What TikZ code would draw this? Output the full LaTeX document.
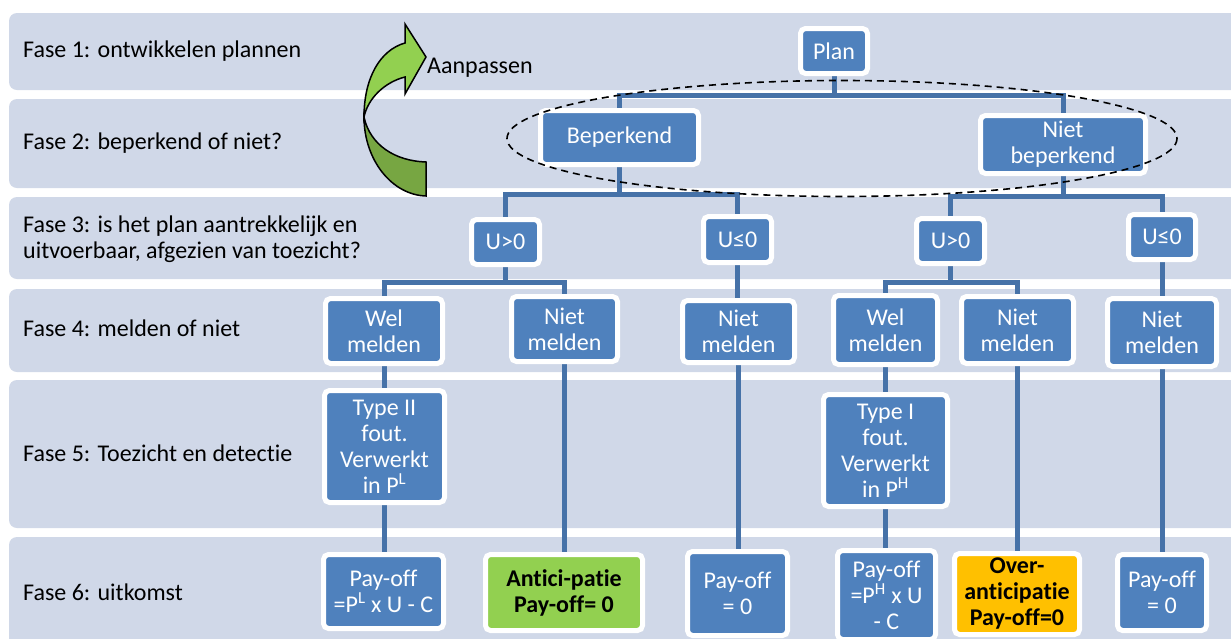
\documentclass[tikz,border=0pt]{standalone}
\usepackage{fontspec}
\setmainfont{Carlito}[Ligatures=NoCommon]
\pgfdeclarelayer{bands}
\pgfdeclarelayer{lines}
\pgfsetlayers{bands,lines,main}
\definecolor{bandgray}{RGB}{208,216,232}
\definecolor{boxblue}{RGB}{79,129,189}
\definecolor{linkblue}{RGB}{70,114,168}
\definecolor{arrowlight}{RGB}{146,208,80}
\definecolor{arrowdark}{RGB}{119,166,66}
\definecolor{antigreen}{RGB}{146,208,80}
\definecolor{overorange}{RGB}{255,192,0}
\tikzset{
    box/.style={fill=boxblue, draw=white, line width=5pt, rounded corners=5pt, inner sep=0pt, text=white, align=center, font=\fontsize{24}{26}\selectfont},
    sz/.style 2 args={minimum width=#1pt, minimum height=#2pt},
    band/.style={fill=bandgray, rounded corners=8pt},
    fase/.style={anchor=west, align=left, inner sep=0pt, font=\fontsize{24}{26}\selectfont},
    conn/.style={draw=linkblue, line width=5pt},
    endbox/.style={box, text=black, font=\fontsize{24}{26}\selectfont\bfseries},
}
\begin{document}
\begin{tikzpicture}[x=1pt, y=-1pt]
    \useasboundingbox (0,0) rectangle (1231,638);
    \begin{pgfonlayer}{bands}
        \fill[white] (0,0) rectangle (1231,638);
        \fill[band] (9,13) rectangle (1250,90);
        \fill[band] (9,99) rectangle (1250,188);
        \fill[band] (9,197) rectangle (1250,279);
        \fill[band] (9,289) rectangle (1250,372);
        \fill[band] (9,380) rectangle (1250,528);
        \fill[band] (9,537) rectangle (1250,660);
    \end{pgfonlayer}

    \node[fase] (f1) at (23,51) {Fase 1: ontwikkelen plannen};
    \node[fase] (f2) at (23,143.5) {Fase 2: beperkend of niet?};
    \node[fase] (f3) at (23,239) {Fase 3: is het plan aantrekkelijk en\\uitvoerbaar, afgezien van toezicht?};
    \node[fase] (f4) at (23,328) {Fase 4: melden of niet};
    \node[fase] (f5) at (23,453) {Fase 5: Toezicht en detectie};
    \node[fase] (f6) at (23,592) {Fase 6: uitkomst};

    \fill[arrowdark, draw=black, line width=1.5pt] (364,117) .. controls (364,160) and (392,195) .. (426,196) -- (426,162) .. controls (395,161) and (370,145) .. (364,117) -- cycle;
    \fill[arrowlight, draw=black, line width=1.5pt] (364,117) .. controls (364,78) and (380,50) .. (405,43) -- (405,24) -- (426,57) -- (405,94) -- (405,77) .. controls (385,82) and (368,98) .. (364,117) -- cycle;
    \node[anchor=base west, inner sep=0pt, font=\fontsize{24}{26}\selectfont] (aanp) at (427,73) {Aanpassen};

    \node[box, sz={67}{45}] (plan) at (834,51) {Plan};
    \node[box, sz={158}{54}] (bep) at (619.5,137.5) {Beperkend};
    \node[box, sz={165}{58}] (nbep) at (1063,144.5) {Niet\\beperkend};
    \node[box, sz={68}{45}] (ua) at (505.5,242) {U>0};
    \node[box, sz={68}{46}] (ub) at (737.5,239.5) {U≤0};
    \node[box, sz={68}{45}] (uc) at (950.5,241) {U>0};
    \node[box, sz={67}{45}] (ud) at (1162,237) {U≤0};
    \node[box, sz={117}{65}] (wa) at (384,331) {Wel\\melden};
    \node[box, sz={106}{65}] (na) at (564.5,329) {Niet\\melden};
    \node[box, sz={112}{62}] (nb) at (738.5,331.5) {Niet\\melden};
    \node[box, sz={104}{69}] (wb) at (885.5,330) {Wel\\melden};
    \node[box, sz={112}{67}] (nc) at (1017.5,330) {Niet\\melden};
    \node[box, sz={109}{68}] (nd) at (1162,332.5) {Niet\\melden};
    \node[box, sz={120}{112}] (ta) at (384.5,446.5) {Type II\\fout.\\Verwerkt\\in P\textsuperscript{L}};
    \node[box, sz={124}{112}] (tb) at (885.5,450.5) {Type I\\fout.\\Verwerkt\\in P\textsuperscript{H}};
    \node[box, sz={120}{74}] (pa) at (383.5,591.5) {Pay-off\\=P\textsuperscript{L} x U - C};
    \node[endbox, fill=antigreen, sz={157}{76}] (anti) at (564,592.5) {Antici-patie\\Pay-off= 0};
    \node[box, sz={100}{84}] (pb) at (737.5,593.5) {Pay-off\\= 0};
    \node[box, sz={98}{89}] (pc) at (886.5,595) {Pay-off\\=P\textsuperscript{H} x U\\- C};
    \node[endbox, fill=overorange, sz={125}{81}] (over) at (1017,594) {Over-\\anticipatie\\Pay-off=0};
    \node[box, sz={89}{76}] (pd) at (1162,592.5) {Pay-off\\= 0};

    \begin{pgfonlayer}{lines}
        \draw[conn] (plan.south) -- ++(0,19) -| (bep.north);
        \draw[conn] (plan.south) -- ++(0,19) -| (nbep.north);
        \draw[conn] (bep.south) -- ++(0,27) -| (ua.north);
        \draw[conn] (bep.south) -- ++(0,27) -| (ub.north);
        \draw[conn] (nbep.south) -- ++(0,20) -| (uc.north);
        \draw[conn] (nbep.south) -- ++(0,20) -| (ud.north);
        \draw[conn] (ua.south) -- ++(0,15) -| (wa.north);
        \draw[conn] (ua.south) -- ++(0,15) -| (na.north);
        \draw[conn] (uc.south) -- ++(0,16) -| (wb.north);
        \draw[conn] (uc.south) -- ++(0,16) -| (nc.north);
        \draw[conn] (ub.south) -- (ub.south |- nb.north);
        \draw[conn] (ud.south) -- (ud.south |- nd.north);
        \draw[conn] (wa.south) -- (wa.south |- ta.north);
        \draw[conn] (ta.south) -- (ta.south |- pa.north);
        \draw[conn] (na.south) -- (na.south |- anti.north);
        \draw[conn] (nb.south) -- (nb.south |- pb.north);
        \draw[conn] (wb.south) -- (wb.south |- tb.north);
        \draw[conn] (tb.south) -- (tb.south |- pc.north);
        \draw[conn] (nc.south) -- (nc.south |- over.north);
        \draw[conn] (nd.south) -- (nd.south |- pd.north);
    \end{pgfonlayer}

    \draw[line width=1.6pt, dash pattern=on 7pt off 5pt] (842,138.5) ellipse [x radius=335, y radius=58];
\end{tikzpicture}
\end{document}
